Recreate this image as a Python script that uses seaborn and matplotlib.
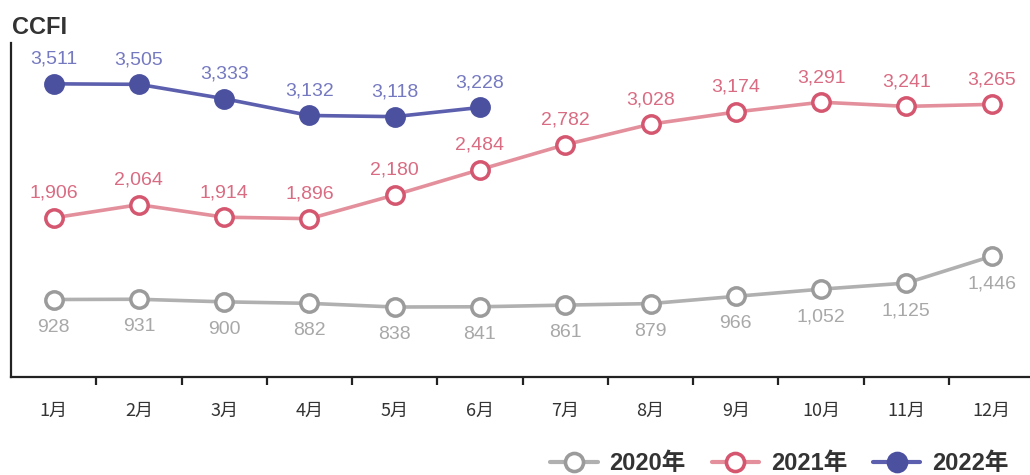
import matplotlib
matplotlib.use('Agg')
import matplotlib.pyplot as plt
import seaborn as sns
import numpy as np
from matplotlib.lines import Line2D
from matplotlib.ticker import FixedLocator

# data
months = ['1月', '2月', '3月', '4月', '5月', '6月', '7月', '8月', '9月', '10月', '11月', '12月']
ccfi_2020 = [928, 931, 900, 882, 838, 841, 861, 879, 966, 1052, 1125, 1446]
ccfi_2021 = [1906, 2064, 1914, 1896, 2180, 2484, 2782, 3028, 3174, 3291, 3241, 3265]
ccfi_2022 = [3511, 3505, 3333, 3132, 3118, 3228]
years = ['2020年', '2021年', '2022年']

sns.set_style('white')
plt.rcParams['font.family'] = ['Noto Sans CJK SC', 'DejaVu Sans']
num_font = ['Liberation Sans Narrow', 'Liberation Sans', 'DejaVu Sans']

fig = plt.figure(figsize=(10.3, 4.75), dpi=100)
ax = fig.add_axes([11 / 1030, 98 / 475, 1 - 11 / 1030, 334 / 475])

styles = [
    # line, marker edge, marker face, label colour, label offset
    ('#b0b0b0', '#9b9b9b', 'white', '#a8a8a8', -19, 'top'),
    ('#e3909c', '#d4566f', 'white', '#d96b82', 16, 'bottom'),
    ('#5c5fae', '#4b519f', '#4b519f', '#7579c0', 16, 'bottom'),
]
series = [ccfi_2020, ccfi_2021, ccfi_2022]

handles = []
for vals, (lc, ec, fc, tc, off, va), name in zip(series, styles, years):
    x = np.arange(len(vals))
    sns.lineplot(x=x, y=vals, ax=ax, color=lc, linewidth=2.6, marker='o',
                 markersize=12.5, markeredgewidth=2.5, markeredgecolor=ec,
                 markerfacecolor=fc)
    for xi, v in zip(x, vals):
        ax.annotate(f'{v:,}', (xi, v), xytext=(0, off), textcoords='offset pixels',
                    ha='center', va=va, fontsize=14, color=tc, family=num_font)
    handles.append(Line2D([], [], color=lc, linewidth=3, marker='o', markersize=13,
                          markeredgewidth=2.6, markeredgecolor=ec, markerfacecolor=fc))

ax.set_xlim(-0.5, 11.45)
ax.set_ylim(0, 4000)
ax.set_yticks([])
ax.set_xticks(range(len(months)))
ax.set_xticklabels(months, fontsize=13, color='#333333')
ax.tick_params(axis='x', which='major', length=0, pad=18)
ax.xaxis.set_minor_locator(FixedLocator(np.arange(0.5, 11, 1)))
ax.tick_params(axis='x', which='minor', bottom=True, length=6, width=1.6,
               color='#222222', direction='out')
for s in ['top', 'right']:
    ax.spines[s].set_visible(False)
for s in ['left', 'bottom']:
    ax.spines[s].set_color('#222222')
    ax.spines[s].set_linewidth(1.6)

fig.text(12 / 1030, 1 - 27 / 475, 'CCFI', fontsize=17, fontweight='bold',
         color='#333333', va='center', ha='left', family=['Liberation Sans', 'DejaVu Sans'])

leg = fig.legend(handles, years, loc='lower right', bbox_to_anchor=(1.0, -0.045),
                 ncol=3, frameon=False, handlelength=2.0, columnspacing=1.1,
                 handletextpad=0.5,
                 prop={'size': 17, 'weight': 'bold',
                       'family': ['Liberation Sans', 'Noto Sans CJK SC']})
for t in leg.get_texts():
    t.set_color('#333333')

plt.savefig('out.png', dpi=100)
